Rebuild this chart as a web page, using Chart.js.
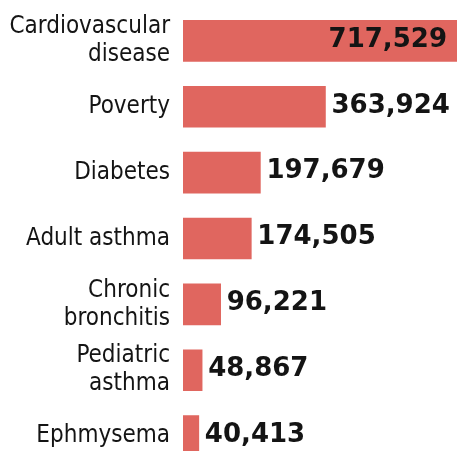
<!DOCTYPE html>
<html>
<head>
<meta charset="utf-8">
<script src="https://cdn.jsdelivr.net/npm/chart.js@4/dist/chart.umd.min.js"></script>
<style>
  html, body { margin: 0; padding: 0; background: #fff; overflow: hidden; }
  #wrap { position: relative; width: 457px; height: 470px; }
</style>
</head>
<body>
<div id="wrap"><canvas id="c" width="457" height="470"></canvas></div>
<script>
const categories = [
  ["Cardiovascular", "disease"],
  "Poverty",
  "Diabetes",
  "Adult asthma",
  ["Chronic", "bronchitis"],
  ["Pediatric", "asthma"],
  "Ephmysema"
];
const values = [717529, 363924, 197679, 174505, 96221, 48867, 40413];
const valueLabels = ["717,529", "363,924", "197,679", "174,505", "96,221", "48,867", "40,413"];

const barColor = "#E0665F";
const textColor = "#141414";

const valueLabelPlugin = {
  id: "valueLabels",
  afterDatasetsDraw(chart) {
    const ctx = chart.ctx;
    const meta = chart.getDatasetMeta(0);
    const area = chart.chartArea;
    ctx.save();
    ctx.font = "bold 26px 'DejaVu Sans'";
    ctx.fillStyle = textColor;
    ctx.textBaseline = "middle";
    meta.data.forEach((bar, i) => {
      const txt = valueLabels[i];
      const w = ctx.measureText(txt).width;
      const end = Math.min(bar.x, area.right);
      if (end + 6 + w > area.right) {
        ctx.textAlign = "right";
        ctx.fillText(txt, end - 10, bar.y - 1);
      } else {
        ctx.textAlign = "left";
        ctx.fillText(txt, end + 6, bar.y - 1);
      }
    });
    ctx.restore();
  }
};

new Chart(document.getElementById("c"), {
  type: "bar",
  data: {
    labels: categories,
    datasets: [{
      data: values,
      backgroundColor: barColor,
      borderWidth: 0,
      barThickness: 41
    }]
  },
  options: {
    indexAxis: "y",
    responsive: false,
    animation: false,
    layout: { padding: { top: 8, bottom: 1, left: 0, right: 0 } },
    plugins: { legend: { display: false }, tooltip: { enabled: false } },
    scales: {
      x: { display: false, min: 0, max: 700000 },
      y: {
        grid: { display: false, drawTicks: false },
        border: { display: false },
        afterFit(scale) {
          scale.width = 183;
          scale.paddingTop = 0;
          scale.paddingBottom = 0;
        },
        ticks: {
          padding: 13,
          color: textColor,
          font: { family: "'DejaVu Sans Condensed', 'DejaVu Sans'", size: 24, lineHeight: 1.17 }
        }
      }
    }
  },
  plugins: [valueLabelPlugin]
});
</script>
</body>
</html>
